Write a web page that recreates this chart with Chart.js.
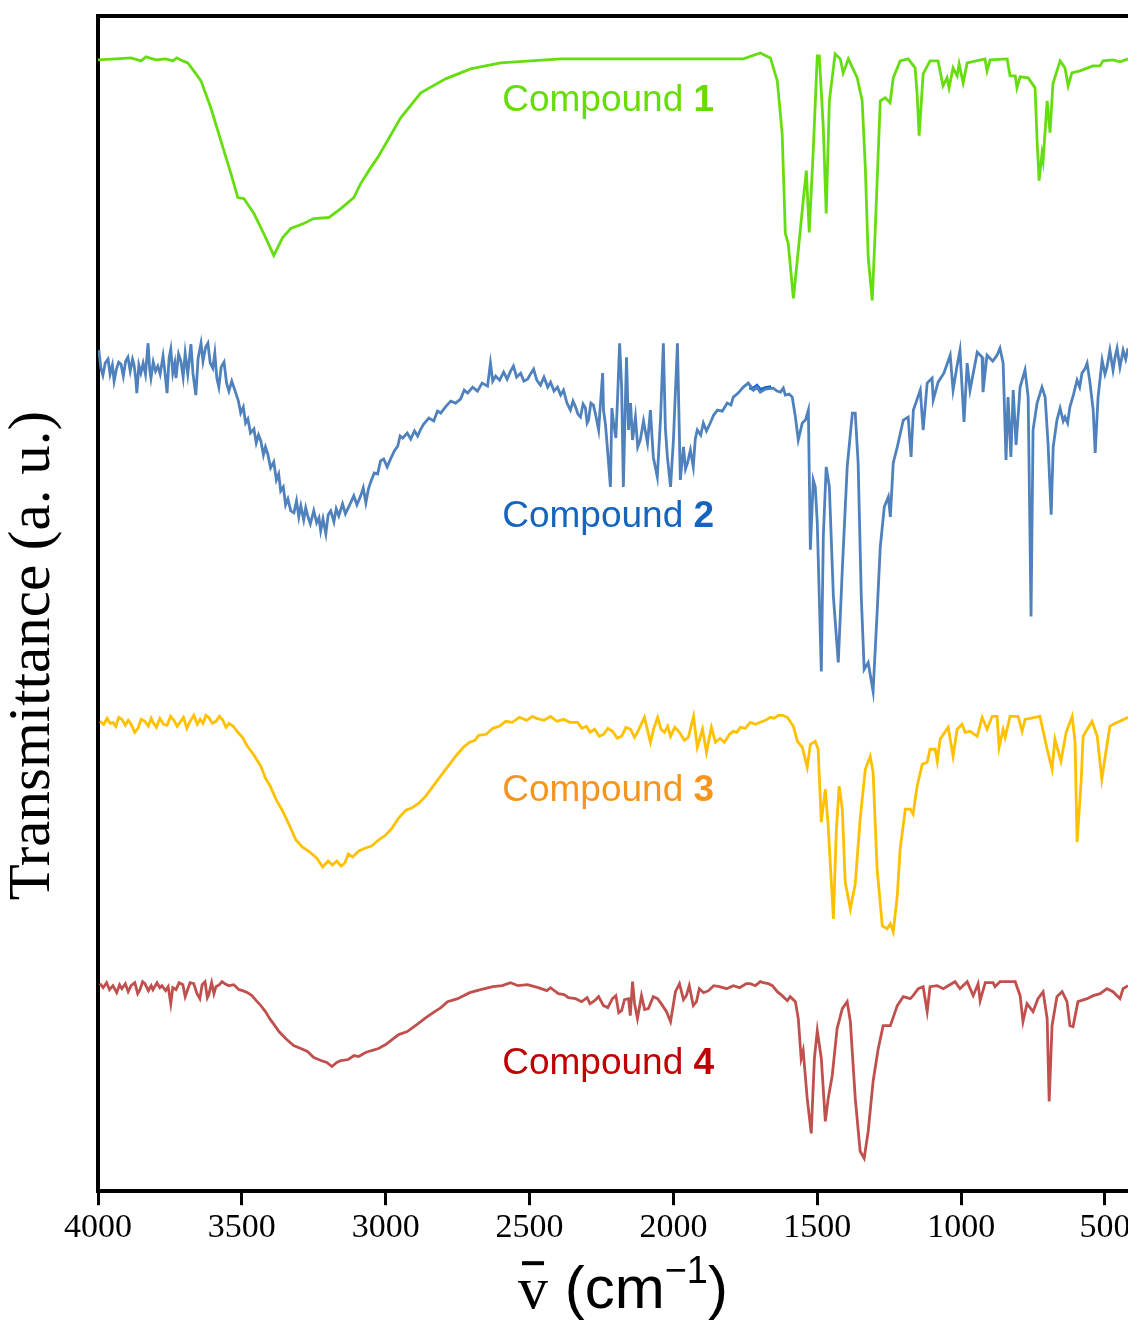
<!DOCTYPE html>
<html>
<head>
<meta charset="utf-8">
<title>IR spectra</title>
<script src="https://cdn.jsdelivr.net/npm/chart.js@4.4.1/dist/chart.umd.min.js"></script>
<style>
  html, body { margin: 0; padding: 0; background: #fff; overflow: hidden; }
  canvas { display: block; }
</style>
</head>
<body>
<canvas id="ir" width="1128" height="1322"></canvas>
<script>
// wavenumber (cm-1), transmittance (a.u., traces stacked)
const compound1 = [
  [4000,113.4],[3937,113.5],[3885,113.6],[3851,113.3],[3833,113.7],[3799,113.4],[3764,113.5],[3740,113.3],
  [3726,113.6],[3705,113.3],[3688,113.1],[3667,112.3],[3642,111.3],[3608,108.6],[3573,105.3],[3538,102.0],
  [3514,99.6],[3493,99.5],[3458,98.0],[3424,96.0],[3389,93.8],[3358,95.6],[3330,96.5],[3285,97.0],
  [3250,97.5],[3198,97.6],[3156,98.5],[3111,99.6],[3087,101.0],[3052,102.6],[3028,103.6],[2948,107.6],
  [2878,110.1],[2792,111.5],[2705,112.5],[2601,113.1],[2392,113.5],[2080,113.5],[1757,113.5],[1698,114.1],
  [1663,113.6],[1639,111.3],[1622,106.0],[1611,96.0],[1601,95.0],[1583,89.5],[1566,94.3],[1549,99.3],
  [1538,102.3],[1528,96.1],[1514,104.3],[1500,113.8],[1493,113.8],[1479,106.6],[1469,98.0],[1458,109.3],
  [1438,114.0],[1420,113.5],[1410,112.1],[1392,113.5],[1361,111.6],[1344,109.3],[1333,102.6],[1323,93.6],
  [1309,89.3],[1299,96.0],[1281,109.3],[1264,109.6],[1247,109.1],[1236,111.6],[1212,113.3],[1184,113.5],
  [1160,112.6],[1153,110.0],[1146,105.8],[1132,112.0],[1108,113.3],[1080,113.3],[1063,110.8],[1049,111.6],
  [1042,110.6],[1028,112.6],[1014,111.8],[1007,113.0],[993,111.1],[979,113.1],[917,113.5],[910,112.3],
  [899,113.4],[840,113.5],[830,111.8],[812,111.8],[806,110.6],[795,111.7],[767,111.6],[743,110.6],
  [736,105.3],[729,101.3],[719,104.0],[715,103.3],[701,109.3],[691,106.1],[681,111.0],[656,113.3],
  [639,112.6],[628,110.8],[615,112.1],[587,112.3],[542,112.8],[517,112.8],[507,113.3],[472,113.4],
  [448,113.2],[420,113.5]
];

const compound2 = [
  [3997,84.3],[3990,82.5],[3983,81.8],[3975,83.0],[3965,83.4],[3958,81.9],[3950,82.8],[3944,81.2],
  [3936,82.4],[3928,83.1],[3920,82.9],[3912,81.7],[3904,83.2],[3896,83.6],[3888,82.2],[3880,83.4],
  [3875,82.9],[3869,81.5],[3865,80.0],[3858,82.8],[3851,82.0],[3843,83.0],[3835,81.9],[3826,85.0],
  [3820,82.3],[3816,81.5],[3808,83.1],[3800,82.2],[3792,82.7],[3784,81.9],[3774,83.7],[3767,82.0],
  [3760,80.0],[3753,83.5],[3747,84.4],[3740,82.0],[3733,83.0],[3729,81.5],[3720,83.9],[3712,83.2],
  [3704,81.6],[3697,84.0],[3688,81.9],[3677,84.9],[3670,82.0],[3660,79.8],[3652,83.5],[3642,85.0],
  [3635,83.2],[3626,84.6],[3618,85.0],[3610,83.0],[3601,82.5],[3594,84.0],[3587,81.5],[3580,80.6],
  [3572,82.6],[3562,83.1],[3553,81.0],[3545,80.2],[3535,81.2],[3521,80.0],[3512,79.2],[3504,78.0],
  [3495,78.6],[3487,77.0],[3479,77.4],[3470,76.0],[3458,76.4],[3450,75.0],[3442,75.8],[3434,75.2],
  [3425,73.8],[3418,74.6],[3410,73.9],[3400,72.5],[3389,73.1],[3380,71.3],[3372,71.9],[3365,70.2],
  [3356,70.6],[3348,68.8],[3340,69.4],[3330,68.2],[3319,68.0],[3310,69.2],[3302,67.6],[3295,68.7],
  [3285,67.3],[3278,68.5],[3271,67.7],[3262,66.9],[3250,68.2],[3240,67.0],[3232,67.5],[3226,66.2],
  [3218,67.4],[3208,65.9],[3200,67.8],[3191,68.2],[3180,67.1],[3172,68.4],[3163,67.7],[3150,68.9],
  [3140,67.9],[3132,68.4],[3122,69.0],[3111,69.7],[3100,68.8],[3087,69.7],[3078,70.5],[3069,69.0],
  [3060,70.4],[3052,71.1],[3040,72.0],[3028,71.9],[3018,73.2],[3007,73.4],[2995,72.6],[2983,73.4],
  [2970,74.2],[2958,74.7],[2950,75.7],[2941,75.5],[2925,76.0],[2913,75.4],[2900,76.2],[2889,75.7],
  [2878,76.4],[2868,76.9],[2850,77.5],[2833,77.2],[2820,78.2],[2809,78.0],[2790,78.7],[2774,79.2],
  [2757,79.0],[2740,79.4],[2727,80.3],[2715,80.0],[2698,80.6],[2681,80.2],[2665,81.0],[2646,80.7],
  [2636,83.0],[2628,81.2],[2618,81.7],[2604,81.3],[2590,82.1],[2578,81.4],[2566,82.2],[2556,82.7],
  [2545,81.6],[2531,82.0],[2520,81.2],[2507,81.4],[2495,82.0],[2486,82.4],[2475,81.3],[2462,80.8],
  [2450,81.6],[2437,80.6],[2427,81.1],[2415,80.2],[2403,80.6],[2392,79.8],[2382,80.3],[2370,79.0],
  [2358,78.3],[2349,79.2],[2340,78.6],[2332,77.9],[2323,77.6],[2314,78.9],[2306,78.5],[2300,77.0],
  [2295,77.3],[2287,79.0],[2278,78.8],[2268,77.5],[2260,76.3],[2246,82.0],[2243,78.3],[2236,76.8],
  [2229,74.3],[2219,70.6],[2214,78.5],[2208,77.0],[2200,75.5],[2194,79.6],[2187,85.0],[2180,80.6],
  [2174,70.6],[2168,78.0],[2163,83.6],[2156,76.3],[2149,79.0],[2142,75.3],[2132,77.6],[2124,74.6],
  [2115,75.3],[2104,77.2],[2090,75.0],[2080,78.3],[2070,73.6],[2056,71.6],[2045,77.3],[2035,85.0],
  [2028,76.5],[2021,73.6],[2010,70.6],[2000,75.3],[1986,85.0],[1976,71.3],[1965,74.6],[1958,72.4],
  [1951,73.0],[1941,74.3],[1931,72.6],[1924,75.4],[1917,76.3],[1905,75.8],[1896,77.0],[1885,76.2],
  [1872,77.0],[1860,77.8],[1847,78.3],[1830,78.2],[1813,79.0],[1800,78.8],[1792,79.6],[1775,80.0],
  [1757,80.6],[1740,81.0],[1722,80.3],[1710,80.6],[1698,80.1],[1680,80.4],[1653,80.5],[1640,80.2],
  [1628,80.1],[1618,80.5],[1611,79.8],[1598,79.9],[1587,79.6],[1576,77.6],[1566,75.3],[1552,77.0],
  [1541,77.3],[1531,78.3],[1524,64.3],[1514,71.3],[1507,70.6],[1500,67.0],[1486,52.1],[1479,65.6],
  [1469,72.6],[1458,70.6],[1444,59.6],[1427,53.0],[1413,62.3],[1396,72.6],[1378,78.0],[1368,78.0],
  [1358,73.0],[1347,59.6],[1337,52.3],[1323,53.0],[1306,50.1],[1292,58.0],[1281,64.6],[1267,68.6],
  [1253,69.6],[1246,67.6],[1236,73.0],[1222,74.6],[1201,77.3],[1184,77.6],[1174,73.6],[1166,78.3],
  [1142,80.3],[1132,76.3],[1118,81.0],[1101,81.5],[1097,79.3],[1080,81.1],[1060,82.0],[1038,83.8],
  [1028,80.3],[1015,82.6],[1004,84.3],[990,77.1],[979,83.0],[969,80.3],[944,84.1],[927,83.6],
  [924,80.1],[910,83.8],[890,83.2],[875,83.8],[865,84.5],[854,83.0],[844,73.3],[837,79.6],
  [827,73.6],[819,80.3],[809,74.8],[795,80.6],[778,82.3],[767,79.6],[757,57.6],[750,76.3],
  [736,79.0],[719,80.6],[708,79.6],[698,75.0],[687,67.8],[680,74.6],[667,77.3],[656,78.5],
  [645,77.2],[639,77.6],[630,77.0],[622,78.6],[610,79.8],[597,81.3],[588,80.6],[580,82.0],
  [570,82.4],[562,83.0],[552,81.0],[541,78.3],[534,74.0],[524,79.6],[510,83.3],[500,81.9],
  [493,82.6],[483,84.3],[472,82.3],[465,83.6],[458,84.5],[448,82.6],[437,84.3],[428,83.4],
  [420,84.5]
];

// short stretch of trace 2 that is drawn darker
const compound2Dark = [
  [1735,80.6],[1722,80.4],[1710,80.7],[1698,80.3],[1680,80.5],[1660,80.6]
];

const compound3 = [
  [3993,47.1],[3980,46.8],[3968,47.4],[3958,46.9],[3948,47.0],[3938,46.6],[3928,47.5],[3917,47.3],
  [3905,46.7],[3895,47.2],[3885,46.8],[3872,46.0],[3861,46.4],[3850,47.3],[3837,47.1],[3825,46.6],
  [3815,47.4],[3809,47.0],[3797,46.5],[3785,47.4],[3772,46.8],[3760,46.7],[3748,47.6],[3736,47.2],
  [3725,46.6],[3715,47.0],[3703,47.5],[3691,46.4],[3680,47.1],[3667,47.7],[3655,46.8],[3645,47.3],
  [3635,46.9],[3625,47.7],[3615,47.5],[3603,46.9],[3590,47.1],[3578,47.6],[3566,47.2],[3555,46.5],
  [3545,46.9],[3530,46.6],[3514,46.0],[3498,45.5],[3483,44.7],[3460,43.8],[3434,42.6],[3418,41.4],
  [3403,40.7],[3380,39.2],[3358,38.1],[3335,36.7],[3312,35.2],[3290,34.5],[3264,34.0],[3240,33.4],
  [3219,32.5],[3200,33.1],[3185,32.7],[3170,33.1],[3155,32.6],[3142,32.9],[3130,33.8],[3115,33.5],
  [3094,34.1],[3070,34.4],[3049,34.6],[3025,35.2],[3000,35.7],[2978,36.4],[2955,37.4],[2930,38.2],
  [2910,38.4],[2885,38.9],[2861,39.6],[2830,40.8],[2799,42.0],[2775,42.9],[2754,43.7],[2730,44.5],
  [2708,45.0],[2690,45.2],[2677,45.7],[2650,45.8],[2628,46.4],[2605,46.6],[2583,47.1],[2560,47.0],
  [2535,47.5],[2510,47.2],[2490,47.6],[2476,47.4],[2450,47.2],[2427,47.6],[2405,47.1],[2382,47.3],
  [2360,47.0],[2333,47.0],[2318,46.4],[2302,46.6],[2290,46.0],[2274,46.3],[2258,45.6],[2243,45.8],
  [2228,46.4],[2212,46.1],[2195,45.4],[2180,45.6],[2165,46.5],[2149,46.3],[2135,45.5],[2125,46.0],
  [2101,47.5],[2090,46.2],[2080,45.0],[2068,46.4],[2055,47.5],[2043,46.3],[2031,46.0],[2020,46.6],
  [2010,45.6],[1995,46.5],[1979,46.0],[1962,45.2],[1948,45.5],[1930,47.6],[1917,44.5],[1899,46.3],
  [1885,44.0],[1868,46.5],[1854,45.0],[1838,45.4],[1823,45.0],[1805,45.8],[1792,46.1],[1780,46.0],
  [1767,46.5],[1750,46.4],[1733,47.0],[1715,46.8],[1698,47.0],[1680,47.2],[1663,47.5],[1650,47.4],
  [1635,47.7],[1620,47.7],[1604,47.5],[1583,46.6],[1569,45.1],[1552,44.5],[1535,42.5],[1524,44.8],
  [1507,45.1],[1497,44.3],[1486,37.0],[1472,40.3],[1462,36.6],[1444,27.3],[1434,36.0],[1424,40.6],
  [1413,38.3],[1403,31.0],[1385,28.3],[1368,30.8],[1351,37.3],[1333,42.3],[1316,43.6],[1306,42.0],
  [1292,32.3],[1274,26.6],[1257,26.3],[1246,26.8],[1236,26.0],[1222,29.6],[1212,34.3],[1194,38.3],
  [1177,38.3],[1167,37.8],[1153,40.6],[1135,42.8],[1118,43.0],[1108,44.3],[1090,44.3],[1083,43.1],
  [1073,45.3],[1045,46.5],[1028,43.6],[1014,46.3],[997,46.8],[986,46.0],[969,46.1],[944,45.6],
  [927,47.5],[910,46.3],[892,47.6],[875,47.6],[868,44.5],[854,46.3],[847,45.5],[830,47.6],
  [802,47.6],[788,46.1],[778,47.3],[726,47.6],[701,44.3],[684,42.3],[674,45.3],[653,43.1],
  [635,46.0],[614,47.6],[604,45.0],[597,35.0],[583,41.0],[576,45.6],[545,47.1],[527,45.6],
  [511,41.3],[497,44.0],[483,46.6],[465,46.9],[448,47.1],[420,47.5]
];

const compound4 = [
  [3993,20.8],[3982,20.4],[3970,20.9],[3960,20.2],[3948,20.6],[3935,19.9],[3925,20.7],[3917,20.3],
  [3905,20.8],[3895,20.0],[3885,20.6],[3872,20.9],[3862,19.8],[3854,20.2],[3845,21.0],[3837,20.8],
  [3825,20.1],[3815,20.6],[3809,20.2],[3795,20.9],[3785,20.4],[3778,20.6],[3765,20.1],[3756,20.5],
  [3747,18.8],[3740,20.4],[3729,20.2],[3718,20.9],[3705,20.7],[3697,19.5],[3691,20.0],[3680,20.9],
  [3667,20.8],[3656,19.8],[3646,19.3],[3638,20.7],[3628,21.0],[3620,19.4],[3615,19.7],[3605,20.9],
  [3597,19.8],[3590,20.5],[3578,20.7],[3569,21.0],[3559,20.8],[3545,20.6],[3528,20.7],[3510,20.2],
  [3497,20.1],[3480,19.9],[3465,19.6],[3450,19.1],[3434,18.6],[3418,18.0],[3403,17.3],[3388,16.7],
  [3371,16.0],[3358,15.6],[3344,15.2],[3320,14.6],[3295,14.3],[3272,14.0],[3250,13.4],[3225,13.1],
  [3205,12.9],[3187,12.5],[3170,12.9],[3156,13.1],[3130,13.2],[3110,13.6],[3094,13.5],[3070,13.9],
  [3049,14.1],[3025,14.3],[3000,14.7],[2978,15.2],[2955,15.7],[2925,16.0],[2892,16.7],[2860,17.4],
  [2830,18.0],[2808,18.4],[2785,19.0],[2750,19.3],[2708,19.9],[2670,20.2],[2628,20.5],[2595,20.6],
  [2566,20.9],[2540,20.6],[2507,20.7],[2470,20.4],[2440,20.1],[2427,20.4],[2400,19.8],[2380,19.7],
  [2365,19.4],[2340,19.3],[2319,19.0],[2300,19.4],[2290,18.8],[2274,19.1],[2260,19.5],[2243,18.6],
  [2228,18.4],[2212,19.3],[2200,19.6],[2190,17.9],[2180,18.1],[2170,19.2],[2156,19.3],[2150,17.6],
  [2142,21.0],[2135,18.8],[2125,17.3],[2111,19.6],[2100,18.2],[2087,18.3],[2070,19.5],[2055,19.3],
  [2040,18.7],[2024,18.0],[2010,17.0],[1993,20.0],[1979,20.8],[1965,19.2],[1955,19.6],[1945,20.6],
  [1931,18.6],[1920,19.0],[1910,20.3],[1895,19.9],[1878,20.1],[1860,20.6],[1840,20.5],[1815,20.3],
  [1792,20.6],[1770,20.4],[1747,20.8],[1733,20.8],[1715,20.6],[1698,21.0],[1688,20.9],[1670,20.8],
  [1656,20.6],[1639,20.0],[1622,19.6],[1604,19.1],[1594,19.5],[1576,19.0],[1566,17.3],[1556,13.3],
  [1549,14.1],[1535,9.3],[1521,5.8],[1510,13.3],[1500,16.1],[1486,13.3],[1472,7.0],[1462,9.3],
  [1448,11.6],[1431,16.3],[1413,18.3],[1396,19.0],[1385,17.0],[1368,9.3],[1351,4.0],[1337,3.3],
  [1323,6.0],[1306,11.0],[1288,14.3],[1271,16.6],[1246,16.6],[1222,18.6],[1201,19.5],[1177,19.3],
  [1167,19.6],[1149,20.3],[1132,20.5],[1118,18.0],[1108,20.5],[1083,20.6],[1062,20.3],[1045,20.6],
  [1021,21.0],[1004,20.3],[979,21.0],[958,19.6],[941,20.8],[934,19.1],[916,20.9],[889,20.9],
  [882,20.5],[865,21.0],[812,21.0],[795,19.6],[785,17.0],[771,18.8],[750,18.0],[733,19.3],
  [715,20.0],[701,17.3],[694,9.0],[684,16.6],[667,19.5],[649,20.0],[632,19.0],[622,16.6],
  [611,16.5],[594,19.0],[562,19.3],[541,19.6],[517,19.8],[493,20.3],[472,20.0],[448,19.3],
  [437,20.3],[420,20.6]
];

const series = [compound1, compound2, compound3, compound4];
const compoundNumbers = ['1', '2', '3', '4'];
const lineColors = ['#66dd11', '#4f81bd', '#ffc000', '#c0504d'];
const labelColors = ['#66dd00', '#1565c0', '#f7941d', '#c00000'];
const xTicks = [500, 1000, 1500, 2000, 2500, 3000, 3500, 4000];

// where each "Compound n" caption starts (wavenumber, transmittance of its baseline)
const captionX = 2595;
const captionY = [108.3, 66.6, 39.1, 11.7];

const sans = '"Liberation Sans", Arial, sans-serif';
const serif = '"Liberation Serif", "Times New Roman", serif';

const captions = {
  id: 'captions',
  afterDatasetsDraw(chart) {
    const { ctx, scales: { x, y } } = chart;
    ctx.save();
    ctx.textAlign = 'left';
    ctx.textBaseline = 'alphabetic';
    compoundNumbers.forEach((n, i) => {
      const px = x.getPixelForValue(captionX);
      const py = y.getPixelForValue(captionY[i]);
      ctx.fillStyle = labelColors[i];
      ctx.font = '37px ' + sans;
      ctx.fillText('Compound ', px, py);
      const w = ctx.measureText('Compound ').width;
      ctx.font = 'bold 37px ' + sans;
      ctx.fillText(n, px + w, py);
    });
    ctx.restore();
  }
};

// axis titles: rotated y title, and the wavenumber title with its bar and superscript
const axisTitles = {
  id: 'axisTitles',
  afterDraw(chart) {
    const { ctx, chartArea } = chart;
    ctx.save();
    ctx.fillStyle = '#000';

    const cy = (chartArea.top + chartArea.bottom) / 2 + 52;
    ctx.translate(33, cy);
    ctx.rotate(-Math.PI / 2);
    ctx.textAlign = 'center';
    ctx.textBaseline = 'middle';
    ctx.font = '59px ' + serif;
    ctx.fillText('Transmittance (a. u.)', 0, 0);
    ctx.setTransform(1, 0, 0, 1, 0, 0);

    const parts = [
      { t: 'v', font: '60px ' + serif, dy: 0 },
      { t: ' (cm', font: '60px ' + sans, dy: 0 },
      { t: '\u22121', font: '38px ' + sans, dy: -25 },
      { t: ')', font: '60px ' + sans, dy: 0 }
    ];
    const widths = parts.map(p => { ctx.font = p.font; return ctx.measureText(p.t).width; });
    const total = widths.reduce((a, b) => a + b, 0);
    const base = chartArea.bottom + 117;
    let px = (chartArea.left + chartArea.right) / 2 + 10 - total / 2;
    ctx.textAlign = 'left';
    ctx.textBaseline = 'alphabetic';
    parts.forEach((p, i) => {
      ctx.font = p.font;
      ctx.fillText(p.t, px, base + p.dy);
      if (i === 0) ctx.fillRect(px + 4, base - 47, widths[0] - 8, 4);
      px += widths[i];
    });
    ctx.restore();
  }
};

const datasets = series.map((s, i) => ({
  label: 'Compound ' + compoundNumbers[i],
  data: s.map(([wn, t]) => ({ x: wn, y: t })),
  borderColor: lineColors[i],
  borderWidth: 2.8,
  pointRadius: 0,
  tension: 0,
  fill: false
}));
datasets.push({
  label: 'Compound 2 (dark)',
  data: compound2Dark.map(([wn, t]) => ({ x: wn, y: t })),
  borderColor: '#0a66d6',
  borderWidth: 4,
  pointRadius: 0,
  tension: 0,
  fill: false
});

new Chart(document.getElementById('ir'), {
  type: 'line',
  data: { datasets },
  options: {
    responsive: false,
    animation: false,
    layout: { padding: { top: 8, left: 90, right: 0, bottom: 72 } },
    plugins: {
      legend: { display: false },
      tooltip: { enabled: false }
    },
    scales: {
      x: {
        type: 'linear',
        position: 'bottom',
        reverse: true,
        min: 420,
        max: 4000,
        afterBuildTicks: scale => { scale.ticks = xTicks.map(value => ({ value })); },
        ticks: {
          autoSkip: false,
          maxRotation: 0,
          padding: 2,
          color: '#000',
          font: { family: serif, size: 34, lineHeight: 1.2 },
          callback: v => String(v)
        },
        grid: {
          drawOnChartArea: false,
          drawTicks: true,
          tickLength: 14,
          tickWidth: 3,
          tickColor: '#000',
          color: '#000'
        },
        border: { color: '#000', width: 4 }
      },
      xTop: {
        type: 'linear',
        axis: 'x',
        position: 'top',
        reverse: true,
        min: 420,
        max: 4000,
        ticks: { display: false },
        grid: { display: false },
        border: { color: '#000', width: 4 }
      },
      y: {
        type: 'linear',
        min: 0,
        max: 117.8,
        ticks: { display: false },
        grid: { display: false },
        border: { color: '#000', width: 4 }
      }
    }
  },
  plugins: [captions, axisTitles]
});
</script>
</body>
</html>
